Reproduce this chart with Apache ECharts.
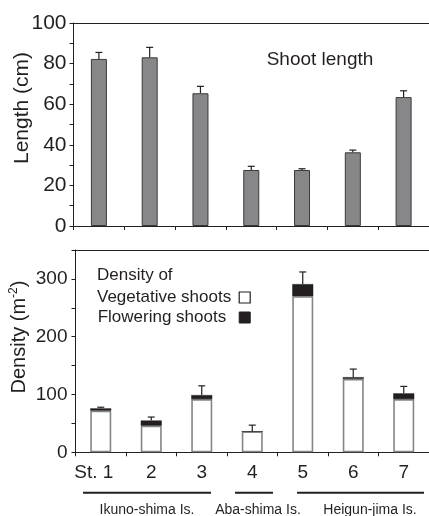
<!DOCTYPE html>
<html><head><meta charset="utf-8">
<script src="https://cdn.jsdelivr.net/npm/echarts@6/dist/echarts.min.js"></script>
<style>html,body{margin:0;padding:0;background:#fff}#c{width:429px;height:516px}</style>
</head><body><div id="c"></div>
<script>
// ---- data ----
const stations = ['St. 1', '2', '3', '4', '5', '6', '7'];
const shootLength = [82.3, 83.1, 65.4, 27.6, 27.6, 36.3, 63.5];
const shootLengthErrTop = [85.5, 88.0, 68.8, 29.4, 28.2, 37.4, 66.6];
const vegetativeDensity = [72, 46, 92, 36, 270, 127, 92];
const floweringDensity = [4, 9, 7, 0, 21, 3, 10];
const densityErrTop = [78, 61, 115, 47, 312, 144, 114];
const lengthTicks = [0, 20, 40, 60, 80, 100];
const densityTicks = [0, 100, 200, 300];
const islands = ['Ikuno-shima Is.', 'Aba-shima Is.', 'Heigun-jima Is.'];

const ink = '#231f20';
const FONT = '"Liberation Sans", Arial, sans-serif';
const chart = echarts.init(document.getElementById('c'), null, {renderer: 'canvas'});

function errItem(params, api) {
  const x = api.value(0);
  const a = api.coord([x, api.value(1)]);
  const b = api.coord([x, api.value(2)]);
  const ls = {stroke: ink, lineWidth: 1.2};
  return {type: 'group', children: [
    {type: 'line', shape: {x1: a[0], y1: a[1], x2: b[0], y2: b[1]}, style: ls},
    {type: 'line', shape: {x1: b[0] - 3.5, y1: b[1], x2: b[0] + 3.5, y2: b[1]}, style: ls}
  ]};
}

const catAxisBase = {
  type: 'category', data: stations, boundaryGap: true,
  axisLine: {show: true, lineStyle: {color: ink, width: 1}},
  axisTick: {show: true, length: 4, interval: 0, lineStyle: {color: ink, width: 1}},
  splitLine: {show: false}
};
const topLine = {
  type: 'category', data: stations, position: 'top',
  axisLine: {show: true, lineStyle: {color: ink, width: 1}},
  axisTick: {show: false}, axisLabel: {show: false}, splitLine: {show: false}
};

const option = {
  animation: false,
  backgroundColor: '#fff',
  textStyle: {fontFamily: FONT, color: ink},
  grid: [
    {left: 73.5, top: 23, width: 355.6, height: 203},
    {left: 75.5, top: 250, width: 356, height: 202.3}
  ],
  xAxis: [
    Object.assign({}, catAxisBase, {gridIndex: 0, axisLabel: {show: false}}),
    Object.assign({}, topLine, {gridIndex: 0}),
    Object.assign({}, catAxisBase, {gridIndex: 1,
      data: stations.map((s, i) => i === 0 ? {value: s, textStyle: {padding: [0, 14, 0, 0]}} : s),
      axisLabel: {show: true, interval: 0, fontSize: 19, color: ink, margin: 11, fontFamily: FONT}}),
    Object.assign({}, topLine, {gridIndex: 1})
  ],
  yAxis: [
    {type: 'value', gridIndex: 0, min: 0, max: 100, interval: 10,
     axisLine: {show: true, lineStyle: {color: ink, width: 1}},
     axisTick: {show: true, length: 4, lineStyle: {color: ink}},
     splitLine: {show: false},
     axisLabel: {fontSize: 21, color: ink, margin: 7, fontFamily: FONT,
       formatter: v => lengthTicks.indexOf(v) >= 0 ? String(v) : ''}},
    {type: 'value', gridIndex: 1, min: 0, max: 350, interval: 50,
     axisLine: {show: true, lineStyle: {color: ink, width: 1}},
     axisTick: {show: true, length: 4, lineStyle: {color: ink}},
     splitLine: {show: false},
     axisLabel: {fontSize: 19, color: ink, margin: 8, fontFamily: FONT,
       formatter: v => densityTicks.indexOf(v) >= 0 ? String(v) : ''}}
  ],
  legend: {
    orient: 'vertical', left: 97, top: 289, align: 'right', padding: 0,
    itemWidth: 11, itemHeight: 11, itemGap: 3,
    textStyle: {fontSize: 17, color: ink, fontFamily: FONT},
    selectedMode: false,
    data: [
      {name: 'Vegetative shoots', icon: 'rect', itemStyle: {color: '#fff', borderColor: ink, borderWidth: 1.2},
       textStyle: {padding: [0, 3, 0, 0]}},
      {name: 'Flowering shoots', icon: 'rect', itemStyle: {color: ink, borderColor: ink, borderWidth: 1},
       textStyle: {padding: [0, 8, 0, 0]}}
    ]
  },
  series: [
    {name: 'Shoot length', type: 'bar', xAxisIndex: 0, yAxisIndex: 0, data: shootLength, barWidth: 16,
     itemStyle: {color: '#87878a', borderColor: '#3a3a3a', borderWidth: 1}},
    {type: 'custom', xAxisIndex: 0, yAxisIndex: 0, renderItem: errItem,
     data: shootLength.map((v, i) => [i, v, shootLengthErrTop[i]]), z: 3},
    {name: 'Vegetative shoots', type: 'bar', stack: 'd', xAxisIndex: 2, yAxisIndex: 1, data: vegetativeDensity, barWidth: 21,
     itemStyle: {color: '#fff', borderColor: '#858585', borderWidth: 1.6}},
    {name: 'Flowering shoots', type: 'bar', stack: 'd', xAxisIndex: 2, yAxisIndex: 1, data: floweringDensity, barWidth: 21,
     itemStyle: {color: ink, borderColor: ink, borderWidth: 0.5}},
    {type: 'custom', xAxisIndex: 2, yAxisIndex: 1, renderItem: errItem,
     data: vegetativeDensity.map((v, i) => [i, v + floweringDensity[i], densityErrTop[i]]), z: 3}
  ],
  graphic: [
    {type: 'text', x: 22, y: 108, rotation: Math.PI / 2,
     style: {text: 'Length (cm)', font: '21px ' + FONT, fill: ink, align: 'center', verticalAlign: 'middle'}},
    {type: 'text', x: 19, y: 337, rotation: Math.PI / 2,
     style: {text: 'Density (m{s|-2})', font: '20px ' + FONT, fill: ink, align: 'center', verticalAlign: 'middle',
       rich: {s: {fontSize: 12, verticalAlign: 'top', padding: [0, 0, 10, 0], fill: ink}}}},
    {type: 'text', x: 320, y: 60,
     style: {text: 'Shoot length', font: '19px ' + FONT, fill: ink, align: 'center', verticalAlign: 'middle'}},
    {type: 'text', x: 97, y: 275,
     style: {text: 'Density of', font: '17px ' + FONT, fill: ink, align: 'left', verticalAlign: 'middle'}},
    {type: 'line', shape: {x1: 83, y1: 492.7, x2: 211, y2: 492.7}, style: {stroke: ink, lineWidth: 2}},
    {type: 'line', shape: {x1: 235, y1: 492.7, x2: 273, y2: 492.7}, style: {stroke: ink, lineWidth: 2}},
    {type: 'line', shape: {x1: 297, y1: 492.7, x2: 424, y2: 492.7}, style: {stroke: ink, lineWidth: 2}},
    {type: 'text', x: 147, y: 510.5,
     style: {text: islands[0], font: '14px ' + FONT, fill: ink, align: 'center', verticalAlign: 'middle'}},
    {type: 'text', x: 258, y: 510.5,
     style: {text: islands[1], font: '14px ' + FONT, fill: ink, align: 'center', verticalAlign: 'middle'}},
    {type: 'text', x: 370, y: 510.5,
     style: {text: islands[2], font: '14px ' + FONT, fill: ink, align: 'center', verticalAlign: 'middle'}}
  ]
};
chart.setOption(option);
</script>
</body></html>
